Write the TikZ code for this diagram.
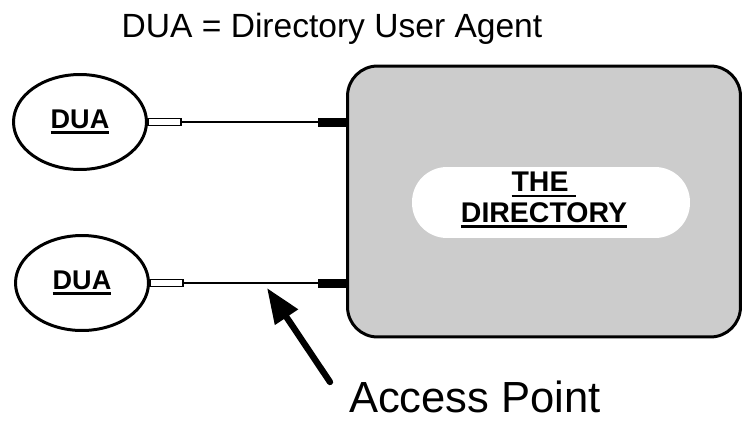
\documentclass[tikz,border=0pt]{standalone}
\usepackage{fontspec}
\setmainfont{Liberation Sans}
\usetikzlibrary{shapes.geometric,arrows.meta}

% underline with a thicker rule than \underline gives
\newcommand\undl[1]{\sbox0{#1}\rlap{\rule[-3pt]{\wd0}{1.4pt}}\usebox0}

\begin{document}
\begin{tikzpicture}[x=0.02cm, y=-0.02cm,
		dua/.style={ellipse, draw, line width=1.7pt, minimum width=2.66cm, minimum height=1.9cm, inner sep=0pt,
			font=\bfseries\fontsize{15.4}{17}\selectfont},
		dirbox/.style={rectangle, draw, line width=1.7pt, rounded corners=0.6cm, fill=black!20,
			minimum width=7.86cm, minimum height=5.42cm},
		pill/.style={rectangle, fill=white, rounded corners=0.7cm, minimum width=5.56cm, minimum height=1.42cm},
		wire/.style={line width=0.8pt},
		stub/.style={draw, fill=white, line width=0.8pt},
		pointer/.style={line width=3.6pt, line cap=round, -{Triangle[length=20pt, width=15pt]}}]
		\useasboundingbox (0,0) rectangle (743,423);
		% legend
		\node[anchor=base, font=\fontsize{19.1}{21}\selectfont] (legend) at (332,37) {DUA = Directory User Agent};
		% the directory
		\node[dirbox] (dir) at (544,201.5) {};
		\node[pill] (dirpill) at (551,202.5) {};
		\node[align=center, font=\bfseries\fontsize{16.2}{17.6}\selectfont] (dirtext) at (544,200)
			{\undl{THE\ }\\\undl{DIRECTORY}};
		% user agents
		\node[dua] (dua1) at (80,122) {\undl{DUA}};
		\node[dua] (dua2) at (82,283) {\undl{DUA}};
		% connections to the directory
		\foreach \d in {dua1,dua2} {
			\draw[wire] (\d.east) -- (dir.west |- \d.east);
			\draw[stub] (\d.east) ++(0,-3.5) rectangle ++(33,7);
			\fill (dir.west |- \d.east) ++(-28,-4.5) rectangle ++(28,9);
		}
		% access point label
		\node[anchor=base, inner sep=0pt, font=\fontsize{24.8}{28}\selectfont] (aplabel) at (475,412) {Access Point};
		\coordinate (aptail) at (330,382);
		\coordinate (aptip) at (267,288);
		\draw[pointer] (aptail) -- (aptip);
	\end{tikzpicture}
\end{document}
